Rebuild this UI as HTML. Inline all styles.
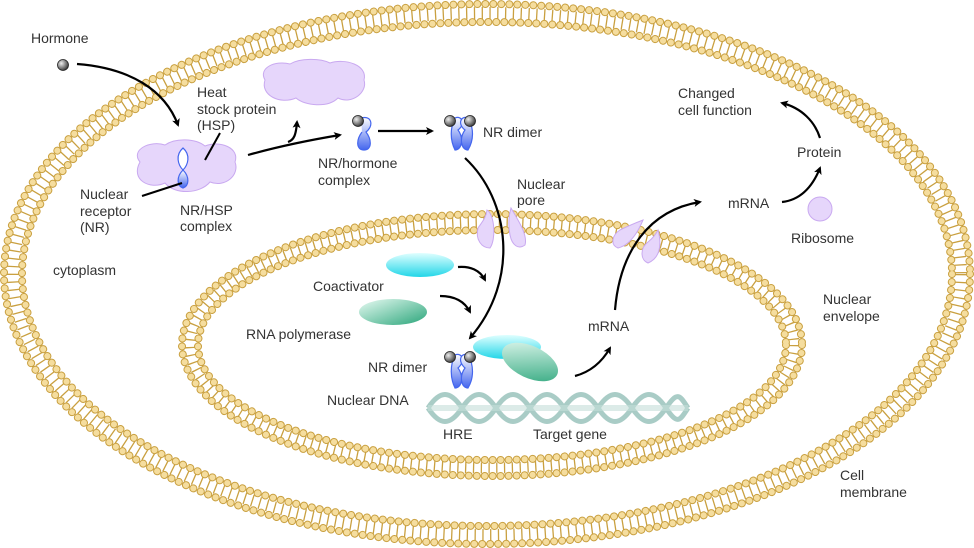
<!DOCTYPE html>
<html><head><style>
body{margin:0;background:#fff;}
svg{display:block;}
text{font-family:"Liberation Sans",sans-serif;font-size:14px;fill:#333;}
</style></head><body>
<svg width="974" height="548" viewBox="0 0 974 548" xmlns="http://www.w3.org/2000/svg">
<defs>
<marker id="ah" markerWidth="8" markerHeight="8" refX="6" refY="4" orient="auto" markerUnits="userSpaceOnUse"><path d="M0,0 L8,4 L0,8 L2,4z" fill="#000"/></marker>
<linearGradient id="cy" x1="0" y1="0" x2="0" y2="1"><stop offset="0" stop-color="#dfffff"/><stop offset="1" stop-color="#22d6e8"/></linearGradient>
<linearGradient id="gr" x1="0" y1="0" x2="1" y2="1"><stop offset="0" stop-color="#e8fbf3"/><stop offset="1" stop-color="#2aa57a"/></linearGradient>
<radialGradient id="ball" cx="0.35" cy="0.35" r="0.7"><stop offset="0" stop-color="#eee"/><stop offset="1" stop-color="#333"/></radialGradient>
<linearGradient id="nr" x1="0" y1="0" x2="0" y2="1"><stop offset="0" stop-color="#fff"/><stop offset="1" stop-color="#4466ee"/></linearGradient>
</defs>
<!-- outer membrane -->
<g fill="none">
<ellipse cx="487" cy="274" rx="474" ry="261" stroke="#c9a040" stroke-width="12" stroke-dasharray="1.3 6.5"/>
<ellipse cx="487" cy="274" rx="483" ry="270" stroke="#c9a040" stroke-width="8" stroke-linecap="round" stroke-dasharray="0.1 7.9"/>
<ellipse cx="487" cy="274" rx="483" ry="270" stroke="#f5dd9e" stroke-width="6" stroke-linecap="round" stroke-dasharray="0.1 7.9"/>
<ellipse cx="487" cy="274" rx="465" ry="252" stroke="#c9a040" stroke-width="8" stroke-linecap="round" stroke-dasharray="0.1 7.9"/>
<ellipse cx="487" cy="274" rx="465" ry="252" stroke="#f5dd9e" stroke-width="6" stroke-linecap="round" stroke-dasharray="0.1 7.9"/>
<!-- nuclear envelope -->
<ellipse cx="492" cy="345" rx="302" ry="123" stroke="#c9a040" stroke-width="11" stroke-dasharray="1.3 6.5"/>
<ellipse cx="492" cy="345" rx="310" ry="131" stroke="#c9a040" stroke-width="8" stroke-linecap="round" stroke-dasharray="0.1 7.9"/>
<ellipse cx="492" cy="345" rx="310" ry="131" stroke="#f5dd9e" stroke-width="6" stroke-linecap="round" stroke-dasharray="0.1 7.9"/>
<ellipse cx="492" cy="345" rx="294" ry="115" stroke="#c9a040" stroke-width="8" stroke-linecap="round" stroke-dasharray="0.1 7.9"/>
<ellipse cx="492" cy="345" rx="294" ry="115" stroke="#f5dd9e" stroke-width="6" stroke-linecap="round" stroke-dasharray="0.1 7.9"/>
</g>
<!-- pores -->
<g fill="#e6d6fb" stroke="#c9a9f0" stroke-width="1">
<path d="M487,210 C495,215 496,240 490,248 C482,248 475,240 478,228 C482,222 486,218 487,210z"/>
<path d="M511,208 C518,220 528,235 525,245 C518,250 512,245 510,235 C508,225 509,215 511,208z"/>
<path d="M643,220 C638,232 630,245 618,248 C610,245 612,235 620,230 C630,225 638,222 643,220z"/>
<path d="M658,230 C662,245 660,258 648,263 C640,260 640,248 648,242 C653,238 656,234 658,230z"/>
</g>
<!-- HSP clouds -->
<path d="M140,162 C130,150 150,140 165,145 C175,138 195,138 205,146 C220,140 240,148 235,162 C240,175 225,188 210,182 C200,194 175,195 165,183 C150,190 130,180 140,162z" fill="#e6d6fb" stroke="#c9a9f0"/>
<path d="M265,80 C258,68 275,60 290,64 C300,58 320,58 330,63 C345,58 368,65 364,80 C368,92 352,105 338,98 C328,108 305,106 296,98 C280,105 260,95 265,80z" fill="#e6d6fb" stroke="#c9a9f0"/>
<circle cx="820" cy="209" r="12" fill="#e6d6fb" stroke="#c9a9f0"/>
<!-- NR shapes -->
<g stroke="#4466ee" stroke-width="1.2">
<path d="M183,148 C175,155 178,165 183,170 C188,165 191,155 183,148z" fill="#fff"/>
<path d="M183,170 C176,177 177,186 183,188 C189,186 190,177 183,170z" fill="url(#nr)"/>
<path d="M361,118 C372,115 374,126 366,132 C372,140 372,150 364,150 C356,150 356,140 362,132" fill="url(#nr)"/>
<path d="M455,118 C450,128 450,140 455,150 C462,150 464,138 458,130 C466,124 462,115 455,118z" fill="url(#nr)"/>
<path d="M468,118 C474,128 474,140 468,150 C461,150 459,138 465,130 C457,124 461,115 468,118z" fill="url(#nr)"/>
<path d="M455,355 C450,365 450,378 455,388 C462,388 464,376 458,368 C466,361 462,352 455,355z" fill="url(#nr)"/>
<path d="M468,355 C474,365 474,378 468,388 C461,388 459,376 465,368 C457,361 461,352 468,355z" fill="url(#nr)"/>
</g>
<g fill="url(#ball)" stroke="#222" stroke-width="0.8">
<circle cx="63" cy="65" r="5.5"/><circle cx="358" cy="121" r="5.5"/>
<circle cx="450" cy="121" r="5.5"/><circle cx="470" cy="121" r="5.5"/>
<circle cx="450" cy="357" r="5.5"/><circle cx="470" cy="357" r="5.5"/>
</g>
<!-- coactivator etc -->
<ellipse cx="420" cy="265" rx="34" ry="12" fill="url(#cy)"/>
<ellipse cx="393" cy="312" rx="34" ry="13" fill="url(#gr)"/>
<ellipse cx="507" cy="347" rx="34" ry="12" fill="url(#cy)"/>
<ellipse cx="530" cy="362" rx="30" ry="16" fill="url(#gr)" transform="rotate(25 530 362)"/>
<!-- DNA -->
<g fill="none" stroke="#a9ccc6" stroke-width="5">
<path d="M428,408 C440,390 450,390 462,408 S484,426 496,408 S518,390 530,408 S552,426 564,408 S586,390 598,408 S620,426 632,408 S654,390 666,408 S680,420 688,408"/>
<path d="M428,408 C440,426 450,426 462,408 S484,390 496,408 S518,426 530,408 S552,390 564,408 S586,426 598,408 S620,390 632,408 S654,426 666,408 S680,396 688,408"/>
</g>
<rect x="428" y="405" width="260" height="6" fill="#c5ded9" opacity="0.6"/>
<!-- arrows -->
<g fill="none" stroke="#000" stroke-width="2.2" marker-end="url(#ah)">
<path d="M77,64 C130,68 165,90 178,125"/>
<path d="M248,155 C280,146 310,140 340,135"/>
<path d="M288,142 C294,140 296,135 297,122"/>
<path d="M378,131 L432,131"/>
<path d="M465,158 C510,200 520,280 470,338"/>
<path d="M458,267 C470,266 480,270 485,280"/>
<path d="M440,296 C455,296 465,302 470,312"/>
<path d="M575,376 C590,372 602,362 610,348"/>
<path d="M615,310 C620,250 650,210 700,202"/>
<path d="M782,202 C800,200 812,188 820,168"/>
<path d="M820,138 C815,122 802,108 782,103"/>
</g>
<g stroke="#000" stroke-width="2"><line x1="205" y1="160" x2="220" y2="133"/><line x1="142" y1="196" x2="182" y2="183"/></g>
<!-- labels -->
<text x="31" y="43">Hormone</text>
<text x="197" y="97">Heat</text><text x="197" y="114">stock protein</text><text x="197" y="130">(HSP)</text>
<text x="80" y="199">Nuclear</text><text x="80" y="216">receptor</text><text x="80" y="232">(NR)</text>
<text x="180" y="215">NR/HSP</text><text x="180" y="231">complex</text>
<text x="318" y="168">NR/hormone</text><text x="318" y="185">complex</text>
<text x="483" y="137">NR dimer</text>
<text x="517" y="189">Nuclear</text><text x="517" y="205">pore</text>
<text x="53" y="275">cytoplasm</text>
<text x="313" y="291">Coactivator</text>
<text x="246" y="339">RNA polymerase</text>
<text x="368" y="372">NR dimer</text>
<text x="327" y="405">Nuclear DNA</text>
<text x="443" y="439">HRE</text>
<text x="533" y="439">Target gene</text>
<text x="588" y="331">mRNA</text>
<text x="728" y="208">mRNA</text>
<text x="797" y="157">Protein</text>
<text x="791" y="243">Ribosome</text>
<text x="678" y="98">Changed</text><text x="678" y="115">cell function</text>
<text x="823" y="304">Nuclear</text><text x="823" y="321">envelope</text>
<text x="840" y="480">Cell</text><text x="840" y="497">membrane</text>
</svg>
</body></html>
